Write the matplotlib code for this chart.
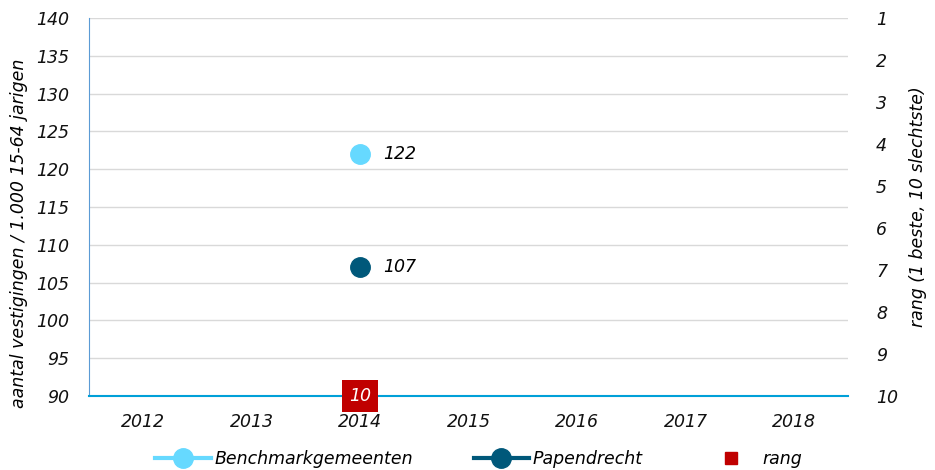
import numpy as np
import matplotlib.pyplot as plt
from matplotlib.lines import Line2D

years = ['2012', '2013', '2014', '2015', '2016', '2017', '2018']
benchmark = [np.nan, np.nan, 122, np.nan, np.nan, np.nan, np.nan]
papendrecht = [np.nan, np.nan, 107, np.nan, np.nan, np.nan, np.nan]
rang = [np.nan, np.nan, 10, np.nan, np.nan, np.nan, np.nan]

c_bench = '#66d9ff'
c_pap = '#00587a'
c_rang = '#c00000'
fs = 12.5

plt.rcParams['font.family'] = 'DejaVu Sans'
plt.rcParams['font.style'] = 'italic'

fig = plt.figure(figsize=(9.35, 4.7), dpi=100)
ax = fig.add_axes([0.0952, 0.1574, 0.812, 0.8043])
x = np.arange(len(years))

ax.plot(x, benchmark, color=c_bench, marker='o', markersize=14, lw=3, zorder=3)
ax.plot(x, papendrecht, color=c_pap, marker='o', markersize=14, lw=3, zorder=3)
for xi, v in zip(x, benchmark):
    if not np.isnan(v):
        ax.text(xi + 0.21, v, '%d' % v, va='center', ha='left', fontsize=fs)
for xi, v in zip(x, papendrecht):
    if not np.isnan(v):
        ax.text(xi + 0.21, v, '%d' % v, va='center', ha='left', fontsize=fs)

ax.set_xlim(-0.5, len(years) - 0.5)
ax.set_ylim(90, 140)
ax.set_yticks(np.arange(90, 141, 5))
ax.set_xticks(x)
ax.set_xticklabels(years)
ax.grid(axis='y', color='#d9d9d9', lw=1)
ax.set_axisbelow(True)
for s in ['top', 'right']:
    ax.spines[s].set_visible(False)
ax.spines['left'].set_color('#5b9bd5')
ax.spines['bottom'].set_color('#00a0d8')
ax.spines['bottom'].set_linewidth(1.5)
ax.tick_params(length=0, labelsize=fs, colors='#111111')
ax.tick_params(axis='x', pad=12)
ax.tick_params(axis='y', pad=14)
ax.set_ylabel('aantal vestigingen / 1.000 15-64 jarigen', fontsize=fs)
ax.yaxis.set_label_coords(-0.08, 0.43)

ax2 = ax.twinx()
ax2.set_ylim(10, 1)
ax2.set_yticks(range(1, 11))
for s in ax2.spines.values():
    s.set_visible(False)
ax2.tick_params(length=0, labelsize=fs, pad=20, colors='#111111')
ax2.set_ylabel('rang (1 beste, 10 slechtste)', fontsize=fs, labelpad=8)
for xi, r in zip(x, rang):
    if not np.isnan(r):
        ax2.text(xi, r, '%d' % r, ha='center', va='center', color='white',
                 fontsize=fs, clip_on=False, zorder=5,
                 bbox=dict(boxstyle='square,pad=0.4', fc=c_rang, ec='none'))

handles = [
    Line2D([], [], color=c_bench, marker='o', markersize=14, lw=3),
    Line2D([], [], color=c_pap, marker='o', markersize=14, lw=3),
    Line2D([], [], color=c_rang, marker='s', markersize=8, lw=0),
]
fig.legend(handles, ['Benchmarkgemeenten', 'Papendrecht', 'rang'],
           loc='lower center', bbox_to_anchor=(0.512, -0.03), ncol=3,
           frameon=False, fontsize=fs, columnspacing=3.5, handlelength=3.2,
           handletextpad=0.2)

fig.savefig('out.png', dpi=100)
